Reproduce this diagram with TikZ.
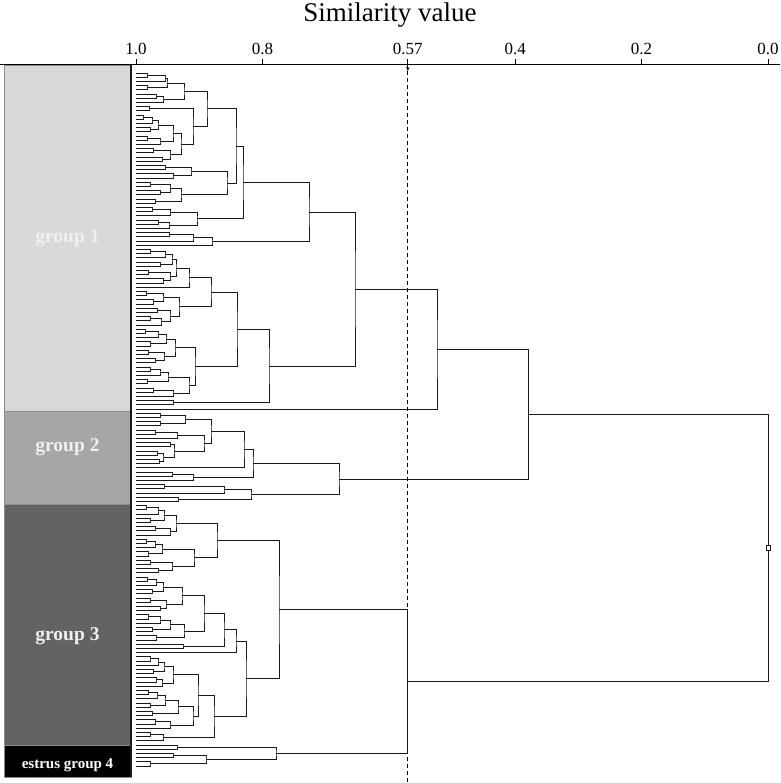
\documentclass[tikz,border=0pt]{standalone}
\usepackage{fontspec}
\setmainfont{Liberation Serif}
\usetikzlibrary{arrows.meta,calc}
\definecolor{grpone}{HTML}{D9D9D9}
\definecolor{grptwo}{HTML}{A6A6A6}
\definecolor{grpthree}{HTML}{636363}
\definecolor{grpfour}{HTML}{000000}
\definecolor{branchcol}{HTML}{1A1A1A}
\definecolor{edgegray}{HTML}{8C8C8C}
\tikzset{
  branch/.style={draw=branchcol, line width=0.9pt},
  groupbox/.style={draw=edgegray, line width=0.6pt},
  grouplabel/.style={font=\bfseries\fontsize{19.5}{22}\selectfont, text=white!94!black,
    anchor=base, inner sep=0pt},
  ticklabel/.style={font=\fontsize{17}{20}\selectfont, anchor=base, inner sep=0pt},
  axisline/.style={draw=black, line width=0.9pt},
  cutline/.style={draw=black, line width=0.8pt, dash pattern=on 4pt off 3pt},
  rootmark/.style={draw=branchcol, fill=white, line width=0.7pt, minimum width=4pt,
    minimum height=5pt, inner sep=0pt}
}
\newcommand{\dmerge}[4]{%
  \path let \p1=(#2), \p2=(#3) in coordinate (#1) at ({#4*1pt},{0.5*(\y1+\y2)});
  \draw[branch] (#2) -| (#1) |- (#3);
}

\begin{document}
\begin{tikzpicture}[x=1pt, y=-1pt]
  \useasboundingbox (0,0) rectangle (780,783);
  \node[font=\fontsize{27}{30}\selectfont, anchor=base, inner sep=0pt] (title) at (390,21.5) {Similarity value};

  \path[groupbox, fill=grpone] (4,65) rectangle (131,411);
  \path[groupbox, fill=grptwo] (4,411) rectangle (131,504);
  \path[groupbox, fill=grpthree] (4,504) rectangle (131,745);
  \path[groupbox, fill=grpfour] (4,745) rectangle (131,777);
  \node[grouplabel] (glab1) at (67.5,243) {group 1};
  \node[grouplabel] (glab2) at (67.5,451) {group 2};
  \node[grouplabel] (glab3) at (67.5,640) {group 3};
  \node[grouplabel, text=white, font=\bfseries\fontsize{15}{18}\selectfont] (glab4) at (67.5,768) {estrus group 4};

  \draw[axisline] (0,64.5) -- (780,64.5);
  \foreach \v [count=\k] in {1.0,0.8,0.4,0.2,0.0} {
    \pgfmathsetmacro\tx{136+(1-\v)*632}
    \node[ticklabel] (tick\k) at (\tx,55) {\v};
    \draw[axisline] (\tx,64.5) -- (\tx,59.5);
  }
  \node[ticklabel] (cutlab) at (407.8,55) {0.57};
  \coordinate (cuttop) at (407.8,59.5);
  \coordinate (cutarr) at (407.8,71);
  \coordinate (cutend) at (407.8,783);
  \draw[axisline, -{Stealth[length=4pt,width=3.5pt]}] (cuttop) -- (cutarr);
  \draw[cutline] (cutarr) -- (cutend);
  \draw[line width=1.2pt, draw=branchcol] (131,64.5) -- (131,777);

  \foreach \i in {1,...,166}
    \coordinate (l\i) at (136,{73+4.2*(\i-1)});

  \foreach \m/\ca/\cb/\hx in {
    a1/l1/l2/147, a2/a1/l3/165, a3/l4/l5/147, a4/a2/a3/167, a5/l6/l7/156, a6/a5/l8/163, a7/a4/a6/184,
    b1/l9/l10/149, b2/l11/l12/143, b3/b2/l13/152, b4/l14/l15/150, b5/b3/b4/158, b6/l16/l17/147,
    b7/b6/l18/160, b8/b5/b7/173, b9/l19/l20/153, b10/l21/l22/162, b11/b9/b10/170, b12/b8/b11/181,
    b13/b1/b12/193, c1/a7/b13/207,
    d1/l23/l24/165, d2/l25/l26/173, d3/d1/d2/191, d4/l27/l28/150, d5/l29/l30/160, d6/d4/d5/170,
    d7/l31/l32/155, d8/d6/d7/181, d9/d3/d8/227, c2/c1/d9/236,
    e1/l33/l34/152, e2/e1/l35/170, e3/l36/l37/158, e4/e3/l38/169, e5/e2/e4/197, c3/c2/e5/243,
    e6/l39/l40/169, e7/e6/l41/193, e8/e7/l42/212, c4/c3/e8/309,
    f1/l43/l44/150, f2/f1/l45/165, f3/l46/l47/160, f4/f2/f3/172, f5/l48/l49/148, f6/l50/l51/163,
    f7/f5/f6/170, f8/f4/f7/176, f9/f8/l52/189,
    f10/l53/l54/146, f11/l55/l56/153, f12/f10/f11/163, f13/l57/l58/157, f14/l59/l60/150,
    f15/f14/l61/161, f16/f13/f15/170, f17/f12/f16/179, f18/f9/f17/211,
    g1/l62/l63/145, g2/g1/l64/158, g3/l65/l66/150, g4/g2/g3/166, g5/l67/l68/148, g6/l69/l70/155,
    g7/g5/g6/164, g8/g4/g7/175, g9/l71/l72/150, g10/g9/l73/160, g11/l74/l75/147, g12/g10/g11/168,
    g13/l76/l77/153, g14/g13/l78/173, g15/g12/g14/189, g16/g8/g15/195,
    g17/f18/g16/237, g18/l79/l80/173, g19/g17/g18/269, h1/c4/g19/355, h2/h1/l81/437,
    k1/l82/l83/160, k2/l84/l85/160, k3/k1/k2/185, k4/l86/l87/155, k5/k4/l88/177, k6/l89/l90/170,
    k7/l91/l92/157, k8/l93/l94/159, k9/k7/k8/163, k10/k6/k9/174, k11/k5/k10/204, k12/k3/k11/211,
    k13/k12/l95/244, k14/l96/l97/172, k15/k14/l98/193, k16/k13/k15/253, k17/l99/l100/164,
    k18/k17/l101/224, k19/l102/l103/178, k20/k18/k19/251, k21/k16/k20/339, h3/h2/k21/528,
    p1/l104/l105/146, p2/p1/l106/158, p3/l107/l108/150, p4/p2/p3/164, p5/l109/l110/155,
    p6/p5/l111/170, p7/p4/p6/176,
    p8/l112/l113/146, p9/p8/l114/155, p10/l115/l116/148, p11/p9/p10/162, p12/l117/l118/150,
    p13/l119/l120/158, p14/p12/p13/172, p15/p11/p14/194, p16/p7/p15/217,
    q1/l121/l122/147, q2/q1/l123/156, q3/l124/l125/152, q4/q2/q3/163, q5/l126/l127/150,
    q6/l128/l129/160, q7/q5/q6/166, q8/q4/q7/182,
    q9/l130/l131/148, q10/q9/l132/160, q11/l133/l134/152, q12/q10/q11/170, q13/l135/l136/156,
    q14/q12/q13/184, q15/q8/q14/204, q16/l137/l138/183, q17/q15/q16/224, q18/q17/l139/236,
    r1/l140/l141/150, r2/r1/l142/158, r3/l143/l144/153, r4/r2/r3/164, r5/l145/l146/156,
    r6/r5/l147/162, r7/r4/r6/173,
    r8/l148/l149/148, r9/r8/l150/157, r10/l151/l152/150, r11/r9/r10/165, r12/l153/l154/152,
    r13/r11/r12/178, r14/l155/l156/155, r15/r14/l157/170, r16/r13/r15/193, r17/r7/r16/198,
    r18/l158/l159/150, r19/r18/l160/163, r20/r17/r19/214, r21/q18/r20/246, r22/p16/r21/279,
    s1/l161/l162/177, s2/l163/l164/173, s3/l165/l166/150, s4/s2/s3/206, s5/s1/s4/276,
    s6/r22/s5/407.8, t1/h3/s6/768}
    \dmerge{\m}{\ca}{\cb}{\hx};

  \node[rootmark] (root) at (t1) {};
\end{tikzpicture}
\end{document}
